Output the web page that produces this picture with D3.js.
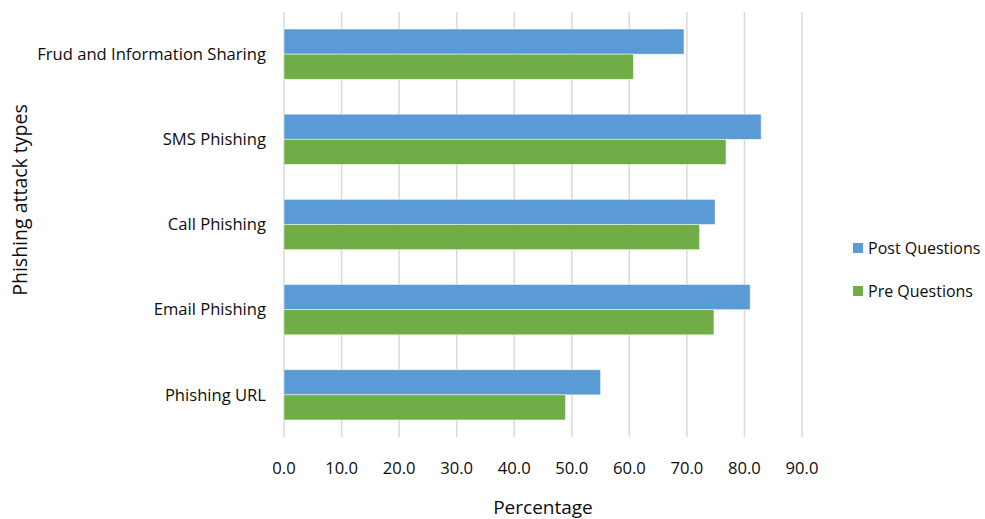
<!DOCTYPE html>
<html>
<head>
<meta charset="utf-8">
<script src="https://cdn.jsdelivr.net/npm/d3@7"></script>
<style>
  body { margin: 0; background: #fff; }
  svg { display: block; }
  text { font-family: "Open Sans", "Noto Sans", sans-serif; fill: #0d0d0d; }
</style>
</head>
<body>
<svg id="chart" width="985" height="519"></svg>
<script>
// categories top to bottom
var categories = ["Frud and Information Sharing", "SMS Phishing", "Call Phishing", "Email Phishing", "Phishing URL"];
var seriesNames = ["Post Questions", "Pre Questions"];
var postValues = [69.5, 82.9, 74.9, 81.0, 55.0];
var preValues = [60.7, 76.8, 72.2, 74.7, 48.9];
var xTicks = [0, 10, 20, 30, 40, 50, 60, 70, 80, 90];
var colors = ["#5b9bd5", "#70ad47"];

var svg = d3.select("#chart");
var margin = { top: 12, right: 180, bottom: 82, left: 284 };
var width = 985, height = 519;

var xScale = d3.scaleLinear()
    .domain([0, 90])
    .range([margin.left, 802]);
var yScale = d3.scaleBand()
    .domain(categories)
    .range([margin.top, height - margin.bottom])
    .paddingInner(0.41)
    .paddingOuter(0.2);
var sub = d3.scaleBand()
    .domain(seriesNames)
    .range([0, yScale.bandwidth()]);

// gridlines
svg.append("g").selectAll("line")
    .data(xTicks)
    .enter().append("line")
    .attr("x1", d => xScale(d))
    .attr("x2", d => xScale(d))
    .attr("y1", margin.top)
    .attr("y2", height - margin.bottom)
    .attr("stroke", "#d9d9d9")
    .attr("stroke-width", 1.5);

var rows = categories.map((c, i) => ({ cat: c, values: [postValues[i], preValues[i]] }));

var groups = svg.append("g").selectAll("g")
    .data(rows)
    .enter().append("g")
    .attr("transform", d => "translate(0," + yScale(d.cat) + ")");

groups.selectAll("rect")
    .data(d => d.values.map((v, j) => ({ name: seriesNames[j], value: v, j: j })))
    .enter().append("rect")
    .attr("x", xScale(0))
    .attr("y", d => sub(d.name))
    .attr("width", d => xScale(d.value) - xScale(0))
    .attr("height", sub.bandwidth())
    .attr("fill", d => colors[d.j])
    .attr("stroke", "#ffffff")
    .attr("stroke-opacity", 0.6)
    .attr("stroke-width", 0.8);

// category labels
svg.append("g").selectAll("text")
    .data(categories)
    .enter().append("text")
    .attr("x", 266)
    .attr("y", d => yScale(d) + yScale.bandwidth() / 2)
    .attr("dy", "0.35em")
    .attr("text-anchor", "end")
    .style("font-size", "16.6px")
    .text(d => d);

// x tick labels
svg.append("g").selectAll("text")
    .data(xTicks)
    .enter().append("text")
    .attr("x", d => xScale(d))
    .attr("y", 468)
    .attr("dy", "0.35em")
    .attr("text-anchor", "middle")
    .style("font-size", "16.6px")
    .text(d => d.toFixed(1));

// axis titles
svg.append("text")
    .attr("x", 543)
    .attr("y", 507)
    .attr("dy", "0.35em")
    .attr("text-anchor", "middle")
    .style("font-size", "19px")
    .text("Percentage");

svg.append("text")
    .attr("transform", "translate(20,200) rotate(-90)")
    .attr("dy", "0.35em")
    .attr("text-anchor", "middle")
    .style("font-size", "19.5px")
    .text("Phishing attack types");

// legend
var legend = svg.append("g").selectAll("g")
    .data(seriesNames)
    .enter().append("g")
    .attr("transform", (d, i) => "translate(853," + (248 + i * 43) + ")");
legend.append("rect")
    .attr("x", 0).attr("y", -5)
    .attr("width", 10).attr("height", 10)
    .attr("fill", (d, i) => colors[i]);
legend.append("text")
    .attr("x", 15)
    .attr("dy", "0.35em")
    .style("font-size", "16px")
    .text(d => d);
</script>
</body>
</html>
